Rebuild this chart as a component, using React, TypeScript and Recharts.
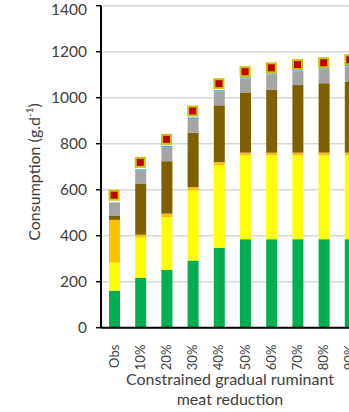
import React from 'react';
import { ComposedChart, Bar, Line, XAxis, YAxis, CartesianGrid } from 'recharts';

const categories = ['Obs', '10%', '20%', '30%', '40%', '50%', '60%', '70%', '80%', '90%'];
const greenVals = [161, 217, 252, 292, 347, 385, 385, 385, 385, 385];
const yellowVals = [122, 175, 229, 305, 360, 364, 364, 364, 364, 364];
const orangeVals = [186, 12, 15, 14, 13, 12, 12, 12, 12, 12];
const brownVals = [19, 221, 228, 237, 247, 262, 273, 294, 302, 310];
const grayVals = [57, 58, 61, 59, 60, 61, 67, 58, 60, 65];
const tealVals = [0, 6, 6, 7, 6, 5, 5, 6, 5, 6];
const totalVals = [576, 719, 819, 942, 1061, 1113, 1130, 1144, 1152, 1165];
const yTicks = [0, 200, 400, 600, 800, 1000, 1200, 1400];

const FONT = 'Lato, "Open Sans", sans-serif';
const TEXT = '#404040';

const data = categories.map((name, i) => ({
  name,
  green: greenVals[i],
  yellow: yellowVals[i],
  orange: orangeVals[i],
  brown: brownVals[i],
  gray: grayVals[i],
  teal: tealVals[i],
  total: totalVals[i],
}));

// rotated category labels under the axis
const XTick = ({ x, y, payload }: any) => (
  <g transform={`translate(${x},${y})`}>
    <text
      transform="rotate(-90)"
      x={-9}
      y={0}
      dy="0.35em"
      textAnchor="end"
      fill={TEXT}
      fontSize={13}
      fontFamily={FONT}
    >
      {payload.value}
    </text>
  </g>
);

// red square marker with olive-yellow border
const SquareDot = ({ cx, cy }: any) => {
  if (cx == null || cy == null) return null;
  return <rect x={cx - 4.5} y={cy - 4.5} width={9} height={9} fill="#C00000" stroke="#C8C400" strokeWidth={2} />;
};

const segments: [string, string][] = [
  ['green', '#00B050'],
  ['yellow', '#FFFF00'],
  ['orange', '#FFC000'],
  ['brown', '#7F6000'],
  ['gray', '#A5A5A5'],
  ['teal', '#4BACC6'],
];

export default function App() {
  return (
    <div style={{ position: 'fixed', left: 0, top: 0, width: 349, height: 412, overflow: 'hidden', background: '#fff' }}>
      <ComposedChart
        width={400}
        height={412}
        data={data}
        barCategoryGap={0}
        margin={{ top: 5.7, right: 37, left: 0, bottom: 0 }}
      >
        <CartesianGrid vertical={false} stroke="#D9D9D9" strokeWidth={1.5} />
        <XAxis
          dataKey="name"
          height={84.3}
          tickLine={false}
          axisLine={{ stroke: '#000', strokeWidth: 2 }}
          tick={<XTick />}
          interval={0}
        />
        <YAxis
          width={101}
          domain={[0, 1400]}
          ticks={yTicks}
          tickSize={5}
          tickMargin={9}
          axisLine={{ stroke: '#000', strokeWidth: 2 }}
          tickLine={{ stroke: '#000', strokeWidth: 1.5 }}
          tick={{ fill: TEXT, fontSize: 15.5, fontFamily: FONT }}
        />
        {segments.map(([key, color]) => (
          <Bar key={key} dataKey={key} stackId="a" fill={color} barSize={11} isAnimationActive={false} />
        ))}
        <Line dataKey="total" stroke="none" dot={<SquareDot />} activeDot={false} isAnimationActive={false} />
      </ComposedChart>
      <div
        style={{
          position: 'absolute',
          left: 33,
          top: 172,
          transform: 'translate(-50%, -50%) rotate(-90deg)',
          whiteSpace: 'nowrap',
          fontFamily: FONT,
          fontSize: 16,
          color: TEXT,
        }}
      >
        Consumption (g.d<sup style={{ fontSize: 10 }}>-1</sup>)
      </div>
      <div
        style={{
          position: 'absolute',
          left: 230,
          top: 369,
          transform: 'translateX(-50%)',
          textAlign: 'center',
          whiteSpace: 'nowrap',
          fontFamily: FONT,
          fontSize: 16,
          lineHeight: '20px',
          color: TEXT,
        }}
      >
        Constrained gradual ruminant
        <br />
        meat reduction
      </div>
    </div>
  );
}
